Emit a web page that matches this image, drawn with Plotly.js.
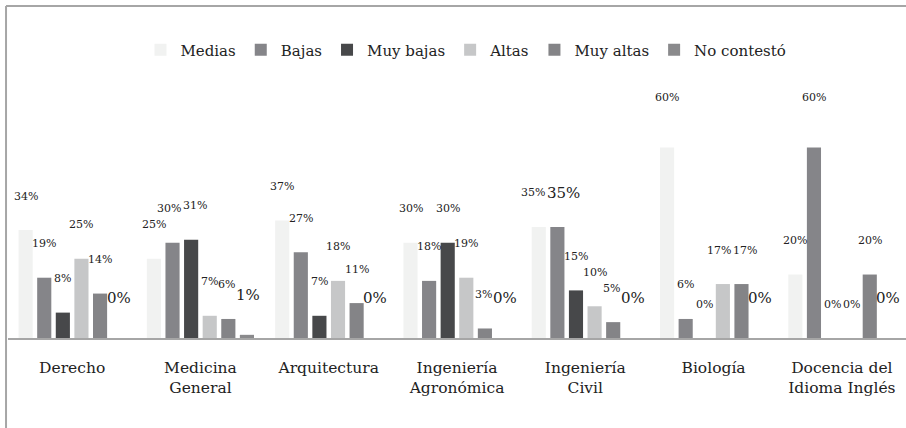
<!DOCTYPE html>
<html><head><meta charset="utf-8">
<script src="https://cdn.plot.ly/plotly-3.0.1.min.js"></script>
<style>html,body{margin:0;padding:0;background:#fff}#chart{width:906px;height:428px}</style>
</head><body><div id="chart"></div>
<script>
const categories = ["Derecho", "Medicina<br>General", "Arquitectura", "Ingeniería<br>Agronómica", "Ingeniería<br>Civil", "Biología", "Docencia del<br>Idioma Inglés"];
const seriesNames = ["Medias", "Bajas", "Muy bajas", "Altas", "Muy altas", "No contestó"];
const medias    = [34, 25, 37, 30, 35, 60, 20];
const bajas     = [19, 30, 27, 18, 35, 6, 60];
const muyBajas  = [8, 31, 7, 30, 15, 0, 0];
const altas     = [25, 7, 18, 19, 10, 17, 0];
const muyAltas  = [14, 6, 11, 3, 5, 17, 20];
const noContesto= [0, 1, 0, 0, 0, 0, 0];
const seriesValues = [medias, bajas, muyBajas, altas, muyAltas, noContesto];
const colors = ["#f1f2f1", "#858589", "#47484a", "#c6c7c8", "#848487", "#8a8a8c"];

const bargap = 0.13;
const FONT = "DejaVu Serif";
const W = 898, H = 238, YMAX = 75;
const slotPx = W / categories.length * (1 - bargap) / 6;
const pxPerUnit = H / YMAX;

const traces = seriesNames.map((n, i) => ({
  type: "bar", name: n, x: categories, y: seriesValues[i],
  marker: {color: colors[i]}, hoverinfo: "none"
}));

const annotations = [];
categories.forEach((c, ci) => {
  const labs = seriesValues.map((vals, i) => {
    const v = vals[ci];
    const big = (i === 5) || (i === 1 && ci === 4);
    const size = big ? 15 : 11;
    const text = v + "%";
    const ysh = (i === 5) ? 40 : (v >= 60 ? 50 : 34);
    const w = (text.length - 1) * 0.636 * size + 0.95 * size;
    return {i, v, size, text, ysh, w, cx: (i - 2.5) * slotPx, cy: v * pxPerUnit + ysh, h: size * 1.1, dx: 0};
  });
  for (let k = 1; k < labs.length; k++) {
    const a = labs[k - 1], b = labs[k];
    if (Math.abs(a.cy - b.cy) < (a.h + b.h) / 2) {
      const gap = (b.cx + b.dx) - (a.cx + a.dx) - (a.w + b.w) / 2 - 1;
      if (gap < 0) { a.dx += gap / 2; b.dx -= gap / 2; }
    }
  }
  labs.forEach(L => {
    annotations.push({
      x: ci + (L.i - 2.5) * (1 - bargap) / 6, y: L.v, xref: "x", yref: "y",
      text: L.text, showarrow: false, yanchor: "middle", yshift: L.ysh, xshift: L.dx,
      font: {family: FONT, size: L.size, color: "#222"}
    });
  });
});

const layout = {
  width: 906, height: 428,
  margin: {l: 8, r: 0, t: 100, b: 90},
  paper_bgcolor: "#fff", plot_bgcolor: "#fff",
  barmode: "group", bargap: bargap, bargroupgap: 0.24,
  font: {family: FONT, color: "#222"},
  showlegend: true,
  legend: {orientation: "h", x: 0.51, xanchor: "center", y: 1.21, yanchor: "middle",
           font: {family: FONT, size: 15, color: "#222"}, itemclick: false},
  xaxis: {type: "category", showline: true, linecolor: "#a6a6a6", linewidth: 1.5,
          ticks: "", tickfont: {family: FONT, size: 15.5, color: "#222"}, ticklabelstandoff: 15,
          showgrid: false, zeroline: false, fixedrange: true},
  yaxis: {range: [0, YMAX], visible: false, showgrid: false, zeroline: false, fixedrange: true},
  annotations: annotations,
  shapes: [
    {type: "line", xref: "paper", yref: "paper", x0: -0.0022, x1: 1.01, y0: 1.395, y1: 1.395, line: {color: "#a6a6a6", width: 2}},
    {type: "line", xref: "paper", yref: "paper", x0: -0.0022, x1: -0.0022, y0: 1.395, y1: -0.4, line: {color: "#a6a6a6", width: 2}}
  ]
};
Plotly.newPlot("chart", traces, layout, {displayModeBar: false, staticPlot: true});
</script></body></html>
